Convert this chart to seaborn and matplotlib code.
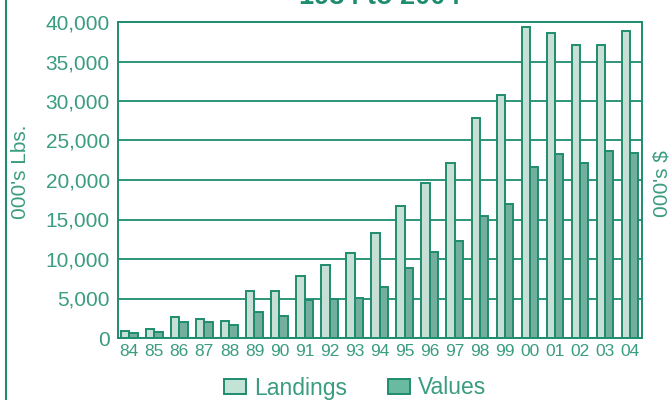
import matplotlib
matplotlib.use("Agg")
import matplotlib.pyplot as plt
from matplotlib.lines import Line2D
import seaborn as sns
import pandas as pd

years = ["84", "85", "86", "87", "88", "89", "90", "91", "92", "93", "94",
         "95", "96", "97", "98", "99", "00", "01", "02", "03", "04"]
landings = [900, 1200, 2600, 2400, 2200, 6000, 6000, 7800, 9300, 10800, 13300,
            16700, 19600, 22200, 27800, 30800, 39400, 38600, 37100, 37100, 38900]
values = [600, 700, 2000, 2000, 1700, 3300, 2800, 4800, 5000, 5100, 6500,
          8900, 10900, 12300, 15400, 17000, 21600, 23300, 22200, 23700, 23400]
series_names = ["Landings", "Values"]
yticks = [0, 5000, 10000, 15000, 20000, 25000, 30000, 35000, 40000]

TEAL = "#1e8c6e"
TEXT = "#3a9c80"
LIGHT = "#c3e3d6"
MID = "#6ab9a1"

df = pd.DataFrame({
    "Year": years * 2,
    "Amount": landings + values,
    "Series": [series_names[0]] * len(years) + [series_names[1]] * len(years),
})

sns.set_style("white")
plt.rcParams["font.family"] = ["Liberation Sans", "DejaVu Sans"]

fig = plt.figure(figsize=(6.72, 4.0), dpi=100)
ax = fig.add_axes([118 / 672, 1 - 338 / 400, (642 - 118) / 672, (338 - 22) / 400])

sns.barplot(data=df, x="Year", y="Amount", hue="Series", order=years,
            hue_order=series_names, palette=[LIGHT, MID], width=0.66,
            edgecolor=TEAL, linewidth=1.4, ax=ax, zorder=3, legend=False)

ax.set_ylim(0, 40000)
ax.set_xlim(-0.45, len(years) - 0.52)
ax.set_yticks(yticks)
ax.set_yticklabels([f"{v:,}" for v in yticks])
ax.yaxis.grid(True, color=TEAL, linewidth=1.3, zorder=0)
ax.set_axisbelow(True)
for s in ax.spines.values():
    s.set_color(TEAL)
    s.set_linewidth(1.4)
ax.tick_params(axis="y", length=0, labelsize=15, labelcolor=TEXT, pad=6)
ax.tick_params(axis="x", length=0, labelsize=12.5, labelcolor=TEXT, pad=4)
ax.set_xlabel("")
ax.set_ylabel("")

fig.text(21 / 672, 1 - 172 / 400, "000's Lbs.", rotation=90, ha="center",
         va="center", color=TEXT, fontsize=15)
fig.text(662 / 672, 1 - 184 / 400, "000's $", rotation=90, ha="center",
         va="center", color=TEXT, fontsize=15)
fig.text(380 / 672, 1 - 4 / 400, "1984 to 2004", ha="center", va="baseline",
         color=TEAL, fontsize=19.5, fontweight="bold")

handles = [plt.Rectangle((0, 0), 1, 1, facecolor=c, edgecolor=TEAL, linewidth=1.4)
           for c in (LIGHT, MID)]
fig.legend(handles, series_names, loc="center", bbox_to_anchor=(355 / 672, 1 - 388 / 400),
           ncol=2, frameon=False, fontsize=16.5, labelcolor=TEXT,
           handlelength=0.95, handleheight=0.65, handletextpad=0.35, columnspacing=1.8)

fig.add_artist(Line2D([6 / 672, 6 / 672], [0, 1], color=TEAL, linewidth=1.5,
                      transform=fig.transFigure))

fig.savefig("out.png", dpi=100)
